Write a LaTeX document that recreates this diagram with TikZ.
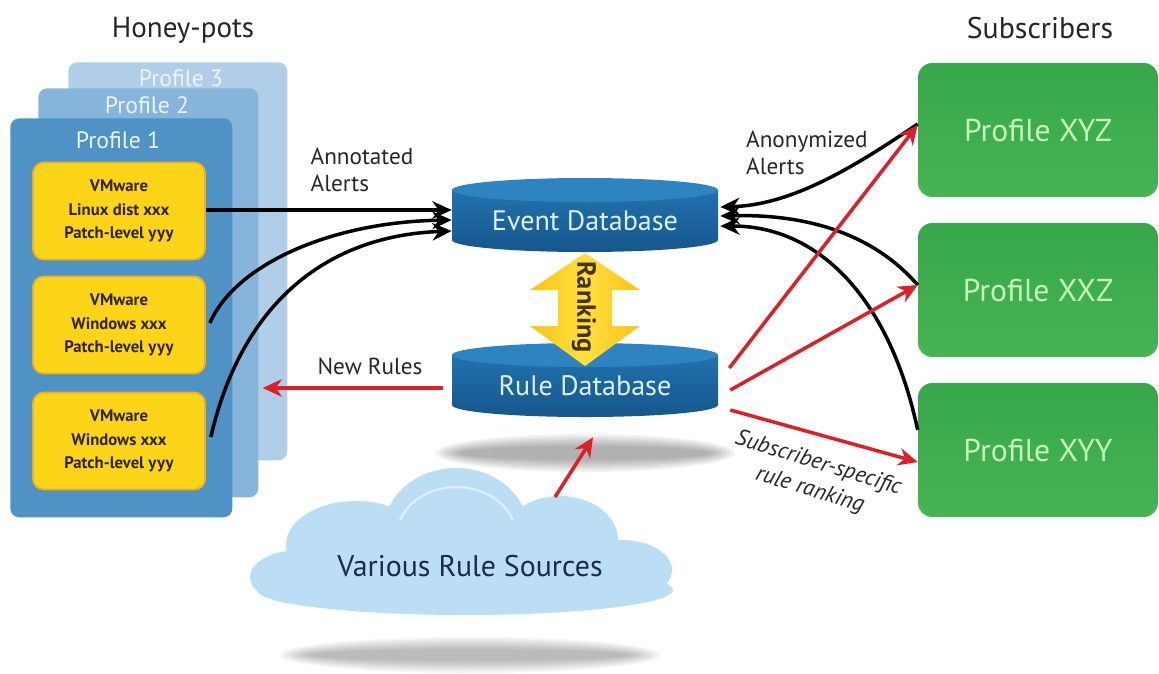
\documentclass[tikz,border=0pt]{standalone}
\usepackage{fontspec}
\setmainfont{PT Sans}
\usetikzlibrary{arrows.meta}

\definecolor{panelA}{RGB}{78,146,198}
\definecolor{panelB}{RGB}{135,180,218}
\definecolor{panelC}{RGB}{176,206,232}
\definecolor{panelInk}{RGB}{236,244,252}
\definecolor{vmyellow}{RGB}{252,212,24}
\definecolor{vmedge}{RGB}{238,176,34}
\definecolor{vmink}{RGB}{45,35,5}
\definecolor{dbbody}{RGB}{34,114,174}
\definecolor{dbdark}{RGB}{22,86,140}
\definecolor{dbtop}{RGB}{46,132,192}
\definecolor{dbink}{RGB}{222,240,250}
\definecolor{subgreen}{RGB}{54,168,74}
\definecolor{subgreenB}{RGB}{70,180,82}
\definecolor{subink}{RGB}{200,242,190}
\definecolor{rulered}{RGB}{222,30,40}
\definecolor{cloudblue}{RGB}{188,222,244}
\definecolor{cloudink}{RGB}{28,44,72}
\definecolor{rankA}{RGB}{250,196,24}
\definecolor{rankB}{RGB}{255,224,60}
\definecolor{rankink}{RGB}{70,50,10}

\begin{document}
\begin{tikzpicture}[x=0.02cm,y=0.02cm,
  panel/.style={rounded corners=5pt, inner sep=0pt, anchor=north west},
  panellabel/.style={text=panelInk, font=\fontsize{13.5}{15}\selectfont},
  vmbox/.style={draw=vmedge, line width=1pt, fill=vmyellow, rounded corners=6pt,
    minimum width=3.44cm, minimum height=1.94cm, inner sep=0pt, align=center,
    text=vmink, font=\bfseries\fontsize{9.5}{13.5}\selectfont},
  subbox/.style={top color=subgreen, bottom color=subgreenB, rounded corners=8pt,
    minimum width=4.8cm, minimum height=2.68cm, inner sep=0pt,
    text=subink, font=\fontsize{18}{21}\selectfont},
  dbnode/.style={minimum width=5.32cm, minimum height=1.24cm, inner sep=0pt,
    text=dbink, font=\fontsize{16}{19}\selectfont},
  heading/.style={text=black!85, font=\fontsize{16.5}{19}\selectfont},
  caption/.style={text=black!85, align=left, font=\fontsize{13.2}{15}\selectfont},
  alert/.style={line width=2pt, -{Stealth[length=11pt,width=10pt]}},
  rulearrow/.style={draw=rulered, line width=2pt,
    -{Stealth[length=11pt,width=10pt]}}]

\useasboundingbox (0,0) rectangle (1159,-673);

% ---------- headings ----------
\node[heading] (honey) at (183,-30) {Honey-pots};
\node[heading, font=\fontsize{17}{19}\selectfont] (subs) at (1040,-28) {Subscribers};

% ---------- honey-pot profiles (stacked panels) ----------
\node[panel, fill=panelC, minimum width=4.38cm, minimum height=7.96cm] (p3) at (68,-62) {};
\node[panel, fill=panelB, minimum width=4.40cm, minimum height=8.18cm] (p2) at (38,-88) {};
\node[panel, fill=panelA, minimum width=4.44cm, minimum height=7.98cm] (p1) at (10,-118) {};
\node[panellabel] (p3lab) at (181,-78) {Profile 3};
\node[panellabel] (p2lab) at (147,-105) {Profile 2};
\node[panellabel] (p1lab) at (118,-140) {Profile 1};

\node[vmbox] (vm1) at (119,-211) {VMware\\Linux dist xxx\\Patch-level yyy};
\node[vmbox] (vm2) at (119,-325) {VMware\\Windows xxx\\Patch-level yyy};
\node[vmbox] (vm3) at (119,-441) {VMware\\Windows xxx\\Patch-level yyy};

% ---------- shadows ----------
\foreach \k in {0,...,6}{
  \fill[black, opacity=0.05] (585,-453) ellipse [x radius={150-4*\k}, y radius={19-2*\k}];
  \fill[black, opacity=0.045] (470,-655) ellipse [x radius={190-5*\k}, y radius={18-2*\k}];
}

% ---------- databases ----------
\shade[top color=dbbody, bottom color=dbdark]
  (452,-190) -- (452,-240) arc[start angle=180, end angle=360, x radius=133, y radius=12]
  -- (718,-190) -- cycle;
\fill[dbtop] (585,-190) ellipse [x radius=133, y radius=12];
\node[dbnode] (edb) at (585,-221) {Event Database};

\shade[top color=dbbody, bottom color=dbdark]
  (452,-355) -- (452,-405) arc[start angle=180, end angle=360, x radius=133, y radius=12]
  -- (718,-355) -- cycle;
\fill[dbtop] (585,-355) ellipse [x radius=133, y radius=12];
\node[dbnode] (rdb) at (585,-386) {Rule Database};

% ---------- ranking double arrow ----------
\shade[left color=rankA, right color=rankA, middle color=rankB]
  (585,-253) -- (640,-290) -- (612,-290) -- (612,-326) -- (640,-326)
  -- (585,-366) -- (530,-326) -- (558,-326) -- (558,-290) -- (530,-290) -- cycle;
\node[rotate=-90, text=rankink, font=\bfseries\fontsize{15}{17}\selectfont] (rank) at (584,-307) {Ranking};

% ---------- rule sources cloud ----------
\begin{scope}
  \fill[cloudblue] (465,-590) ellipse [x radius=208, y radius=25];
  \fill[cloudblue] (300,-577) ellipse [x radius=50, y radius=27];
  \fill[cloudblue] (356,-545) ellipse [x radius=70, y radius=44];
  \fill[cloudblue] (456,-530) ellipse [x radius=72, y radius=62];
  \fill[cloudblue] (560,-540) ellipse [x radius=58, y radius=44];
  \fill[cloudblue] (622,-570) ellipse [x radius=50, y radius=30];
  \draw[white, opacity=0.55, line width=1.2pt]
    (400,-520) arc[start angle=160, end angle=20, x radius=60, y radius=50];
\end{scope}
\node[text=cloudink, font=\fontsize{17}{20}\selectfont] (src) at (470,-566) {Various Rule Sources};
\coordinate (cloudtop) at (555,-497);

% ---------- subscribers ----------
\node[subbox] (g1) at (1038,-130) {Profile XYZ};
\node[subbox] (g2) at (1038,-290) {Profile XXZ};
\node[subbox] (g3) at (1038,-450) {Profile XYY};

% ---------- annotated alerts ----------
\draw[alert] ([shift={(0,1)}]vm1.east) -- ([shift={(0,11)}]edb.west);
\draw[alert] ([shift={(4,2)}]vm2.east) .. controls (235,-265) and (330,-222) .. ([shift={(0,1)}]edb.west);
\draw[alert] ([shift={(5,4)}]vm3.east) .. controls (240,-310) and (320,-236) .. ([shift={(0,-10)}]edb.west);
\node[caption] (annot) at (362,-170) {Annotated\\Alerts};

% ---------- anonymized alerts ----------
\draw[alert] ([shift={(0,6)}]g1.west) .. controls (850,-170) and (790,-205) .. ([shift={(2,14)}]edb.east);
\draw[alert] ([shift={(0,5)}]g2.west) .. controls (870,-230) and (800,-214) .. ([shift={(2,5)}]edb.east);
\draw[alert] ([shift={(0,20)}]g3.west) .. controls (890,-300) and (820,-226) .. ([shift={(2,-5)}]edb.east);
\node[caption, anchor=west] (anon) at (740,-153) {Anonymized\\Alerts};

% ---------- rule distribution ----------
\draw[rulearrow] ([shift={(-9,-2)}]rdb.west) -- ([shift={(4,-2)}]rdb.west -| p2.east);
\node[caption, align=center] (newrules) at (370,-366) {New Rules};
\draw[rulearrow] (cloudtop) -- ([shift={(8,-20)}]rdb.south);
\draw[rulearrow] ([shift={(11,18)}]rdb.east) -- ([shift={(0,5)}]g1.west);
\draw[rulearrow] ([shift={(12,-4)}]rdb.east) -- ([shift={(0,5)}]g2.west);
\draw[rulearrow] ([shift={(12,-24)}]rdb.east) -- ([shift={(0,-12)}]g3.west);
\node[caption, align=center, rotate=-17, font=\itshape\fontsize{13}{16}\selectfont] (rank2) at (814,-477) {Subscriber-specific\\rule ranking};

\end{tikzpicture}
\end{document}
